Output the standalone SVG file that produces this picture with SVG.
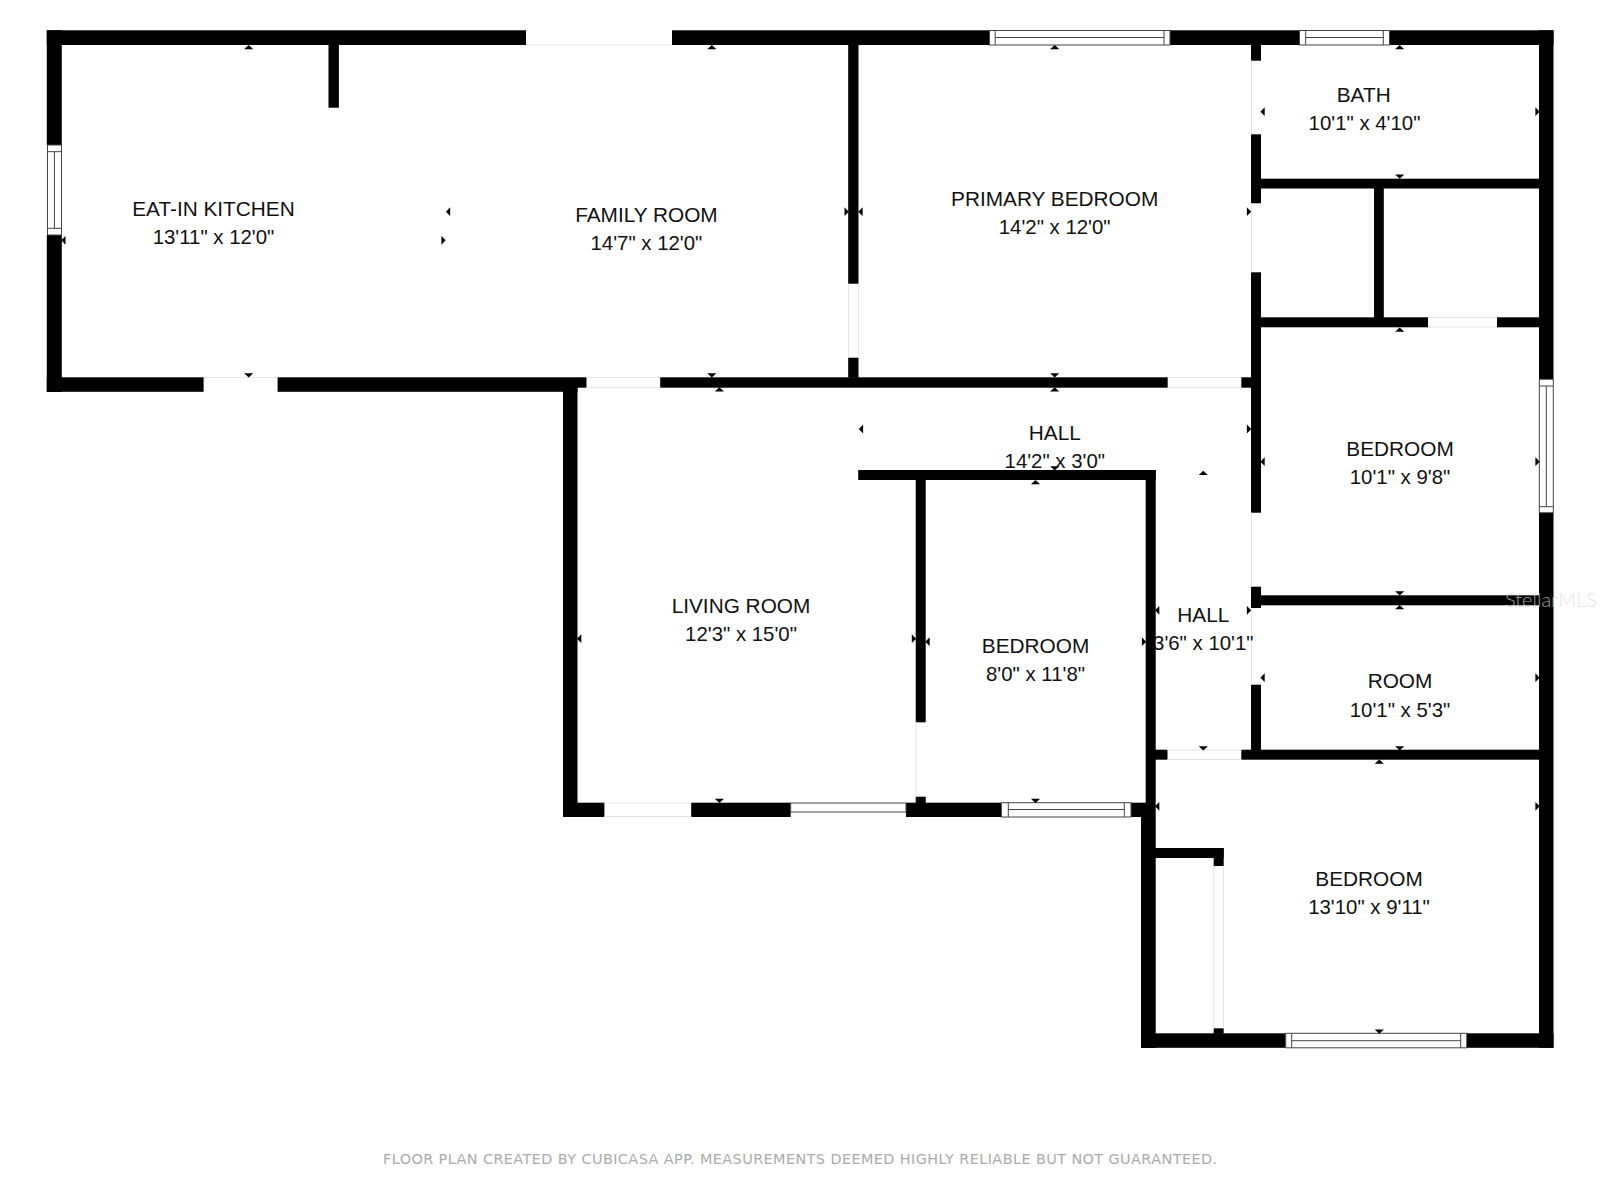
<svg xmlns="http://www.w3.org/2000/svg" width="1600" height="1200" viewBox="0 0 1600 1200">
<style>
text{font-family:"Liberation Sans",Arial,sans-serif;font-size:20.8px;fill:#111;text-anchor:middle}
text.dim{font-size:20.4px}
.w{fill:#000}
.gap{stroke:#e4e4e4;stroke-width:1;fill:none}
.win{fill:#fff;stroke:#444;stroke-width:1}
text.foot{font-family:"DejaVu Sans",sans-serif;font-size:14.4px;fill:#aaa;text-anchor:start}
text.mark{font-family:Lato,sans-serif;font-weight:300;font-size:20px;fill:#d8d8d8;fill-opacity:.75;text-anchor:start}
</style>
<defs>
<polygon id="u" points="0,-2.5 4.6,1.8 -4.6,1.8" fill="#000"/>
<polygon id="d" points="0,2.5 4.6,-1.8 -4.6,-1.8" fill="#000"/>
<polygon id="l" points="-2.5,0 1.8,-4.4 1.8,4.4" fill="#000"/>
<polygon id="r" points="2.5,0 -1.8,-4.4 -1.8,4.4" fill="#000"/>
</defs>
<rect width="1600" height="1200" fill="#fff"/>
<g id="walls">
<rect class="w" x="46.8" y="30.3" width="479.2" height="14.7"/>
<rect class="w" x="672" y="30.3" width="317.5" height="14.7"/>
<rect class="w" x="1170" y="30.3" width="129.5" height="14.7"/>
<rect class="w" x="1389.5" y="30.3" width="164" height="14.7"/>
<rect class="w" x="46.8" y="30.3" width="15" height="114.7"/>
<rect class="w" x="46.8" y="235" width="15" height="157"/>
<rect class="w" x="46.8" y="377.3" width="156.8" height="14.5"/>
<rect class="w" x="277.6" y="377.3" width="299.9" height="14.5"/>
<rect class="w" x="577" y="377.3" width="9.5" height="10.4"/>
<rect class="w" x="328.5" y="45" width="10.4" height="62.7"/>
<rect class="w" x="848.2" y="45" width="10.3" height="238.7"/>
<rect class="w" x="848.2" y="357.7" width="10.3" height="20"/>
<rect class="w" x="660.2" y="377.3" width="507.5" height="10.4"/>
<rect class="w" x="1241.3" y="377.3" width="10" height="10.4"/>
<rect class="w" x="563" y="387" width="14.5" height="430"/>
<rect class="w" x="563" y="802.7" width="41.4" height="14.3"/>
<rect class="w" x="691.2" y="802.7" width="99.5" height="14.3"/>
<rect class="w" x="906" y="802.7" width="95.4" height="14.3"/>
<rect class="w" x="1131" y="802.7" width="15" height="14.3"/>
<rect class="w" x="858.2" y="470" width="297.5" height="10"/>
<rect class="w" x="915.7" y="480" width="10" height="242.3"/>
<rect class="w" x="915.7" y="796.7" width="10" height="6.3"/>
<rect class="w" x="1145.7" y="470" width="10" height="347"/>
<rect class="w" x="1141" y="817" width="14.7" height="231"/>
<rect class="w" x="1155" y="848" width="68.7" height="10"/>
<rect class="w" x="1213.7" y="848" width="10" height="18"/>
<rect class="w" x="1213.7" y="1028.3" width="10" height="5.5"/>
<rect class="w" x="1141" y="1033.3" width="144.7" height="14.5"/>
<rect class="w" x="1466.7" y="1033.3" width="86.8" height="14.5"/>
<rect class="w" x="1155" y="749.7" width="12.5" height="10"/>
<rect class="w" x="1241.3" y="749.7" width="298" height="10"/>
<rect class="w" x="1251" y="45" width="10" height="15.7"/>
<rect class="w" x="1251" y="134.3" width="10" height="69"/>
<rect class="w" x="1251" y="272.3" width="10" height="240.4"/>
<rect class="w" x="1251" y="586.7" width="10" height="21.3"/>
<rect class="w" x="1251" y="684.7" width="10" height="70"/>
<rect class="w" x="1261" y="178.7" width="278.5" height="9.8"/>
<rect class="w" x="1374" y="188" width="9.8" height="130"/>
<rect class="w" x="1261" y="317.3" width="167" height="10"/>
<rect class="w" x="1497" y="317.3" width="42.5" height="10"/>
<rect class="w" x="1261" y="595.3" width="278.5" height="10"/>
<rect class="w" x="1539" y="30.3" width="14.5" height="349"/>
<rect class="w" x="1539" y="512.7" width="14.5" height="535.1"/>
</g>
<g id="openings">
<path class="gap" d="M526 45H672M203.6 377.5H277.6M586.5 377.5H660.2M586.5 387.5H660.2M1167.7 377.5H1241.3M1167.7 387.5H1241.3M1428 317.5H1497M1428 327H1497M1167.3 750H1241.3M1167.3 759.5H1241.3M604.4 803H691.2M604.4 816.5H691.2M848.5 284V357.7M858.5 284V357.7M916 722V797M1251.5 60.7V134.3M1251.5 203.3V272.3M1251.5 512.7V586.7M1251.5 608V684.7M1214 866V1028.3M1223.5 866V1028.3"/>
</g>
<g id="windows">
<rect class="win" x="47.5" y="145" width="14" height="90"/>
<path class="win" d="M47.5 151.7H61.5M47.5 228.3H61.5M54.4 151.7V228.3"/>
<rect class="win" x="989.5" y="30.5" width="180.5" height="14.5"/>
<path class="win" d="M995.2 30.5V45M1164 30.5V45M995.2 37.5H1164"/>
<rect class="win" x="1299.5" y="30.5" width="90" height="14.5"/>
<path class="win" d="M1305.7 30.5V45M1383.3 30.5V45M1305.7 37.5H1383.3"/>
<rect class="win" x="1539.3" y="379.3" width="14" height="133.4"/>
<path class="win" d="M1539.3 386H1553.3M1539.3 506.7H1553.3M1546.3 386V506.7"/>
<rect class="win" x="790.7" y="803" width="115.3" height="9"/>
<rect class="win" x="1001.4" y="802.7" width="129.6" height="14.3"/>
<path class="win" d="M1008.3 802.7V817M1124.3 802.7V817M1008.3 809.5H1124.3"/>
<rect class="win" x="1285.7" y="1033.3" width="181" height="14.5"/>
<path class="win" d="M1291.7 1033.3V1047.8M1460.7 1033.3V1047.8M1291.7 1040.7H1460.7"/>
</g>
<g id="room-kitchen">
<text x="213.5" y="215.5">EAT-IN KITCHEN</text>
<text class="dim" x="213.5" y="243.7">13'11" x 12'0"</text>
<use href="#u" x="248.7" y="47.5"/><use href="#l" x="63.7" y="240.3"/><use href="#r" x="443.2" y="240.3"/><use href="#d" x="248.7" y="375"/>
</g>
<g id="room-family">
<text x="646.4" y="221.5">FAMILY ROOM</text>
<text class="dim" x="646.4" y="249.5">14'7" x 12'0"</text>
<use href="#u" x="711.8" y="47.5"/><use href="#l" x="448.4" y="211.7"/><use href="#r" x="846.3" y="211.7"/><use href="#d" x="711.8" y="375"/>
</g>
<g id="room-primary">
<text x="1054.7" y="206">PRIMARY BEDROOM</text>
<text class="dim" x="1054.7" y="234">14'2" x 12'0"</text>
<use href="#u" x="1054.7" y="47.5"/><use href="#l" x="860.8" y="211.7"/><use href="#r" x="1248.7" y="211.7"/><use href="#d" x="1054.7" y="375"/>
</g>
<g id="room-bath">
<text x="1363.7" y="102.3">BATH</text>
<text class="dim" x="1364.5" y="130.3">10'1" x 4'10"</text>
<use href="#u" x="1399.7" y="47.5"/><use href="#l" x="1262.9" y="111.7"/><use href="#r" x="1537.2" y="111.7"/><use href="#d" x="1399.7" y="176.3"/>
</g>
<g id="room-bedroom-2">
<text x="1400" y="456.3">BEDROOM</text>
<text class="dim" x="1400" y="484.3">10'1" x 9'8"</text>
<use href="#u" x="1399.7" y="330"/><use href="#l" x="1262.9" y="461.7"/><use href="#r" x="1537.2" y="461.7"/><use href="#d" x="1399.7" y="593"/>
</g>
<g id="room-hall-1">
<text x="1054.8" y="440">HALL</text>
<text class="dim" x="1054.8" y="468">14'2" x 3'0"</text>
<use href="#u" x="1054.7" y="389.7"/><use href="#l" x="861.3" y="429"/><use href="#r" x="1248.7" y="429"/><use href="#d" x="1054.7" y="468"/>
</g>
<g id="room-living">
<text x="741" y="612.5">LIVING ROOM</text>
<text class="dim" x="741" y="640.5">12'3" x 15'0"</text>
<use href="#u" x="719.4" y="389.7"/><use href="#l" x="579.5" y="638.7"/><use href="#r" x="913.6" y="638.7"/><use href="#d" x="719.4" y="800.5"/>
</g>
<g id="room-bedroom-3">
<text x="1035.5" y="652.7">BEDROOM</text>
<text class="dim" x="1035.5" y="680.5">8'0" x 11'8"</text>
<use href="#u" x="1035.5" y="482.5"/><use href="#l" x="927.8" y="641.7"/><use href="#r" x="1143.7" y="641.7"/><use href="#d" x="1035.5" y="800.5"/>
</g>
<g id="room-hall-2">
<text x="1203.3" y="621.5">HALL</text>
<text class="dim" x="1203.3" y="649.5">3'6" x 10'1"</text>
<use href="#u" x="1203.3" y="473.3"/><use href="#l" x="1157.5" y="610.3"/><use href="#r" x="1248.7" y="610.3"/><use href="#d" x="1203.3" y="748"/>
</g>
<g id="room-room">
<text x="1400" y="688.3">ROOM</text>
<text class="dim" x="1400" y="716.5">10'1" x 5'3"</text>
<use href="#u" x="1399.7" y="607.5"/><use href="#l" x="1262.9" y="677.7"/><use href="#r" x="1537.2" y="677.7"/><use href="#d" x="1399.7" y="748"/>
</g>
<g id="room-bedroom-4">
<text x="1369" y="886">BEDROOM</text>
<text class="dim" x="1369" y="914">13'10" x 9'11"</text>
<use href="#u" x="1379.3" y="762"/><use href="#l" x="1157.5" y="806.3"/><use href="#r" x="1537.2" y="806.3"/><use href="#d" x="1379.3" y="1031.3"/>
</g>
<text class="foot" x="383" y="1164" textLength="834" lengthAdjust="spacing">FLOOR PLAN CREATED BY CUBICASA APP. MEASUREMENTS DEEMED HIGHLY RELIABLE BUT NOT GUARANTEED.</text>
<text class="mark" x="1505" y="607" textLength="92" lengthAdjust="spacingAndGlyphs">StellarMLS</text>
</svg>
